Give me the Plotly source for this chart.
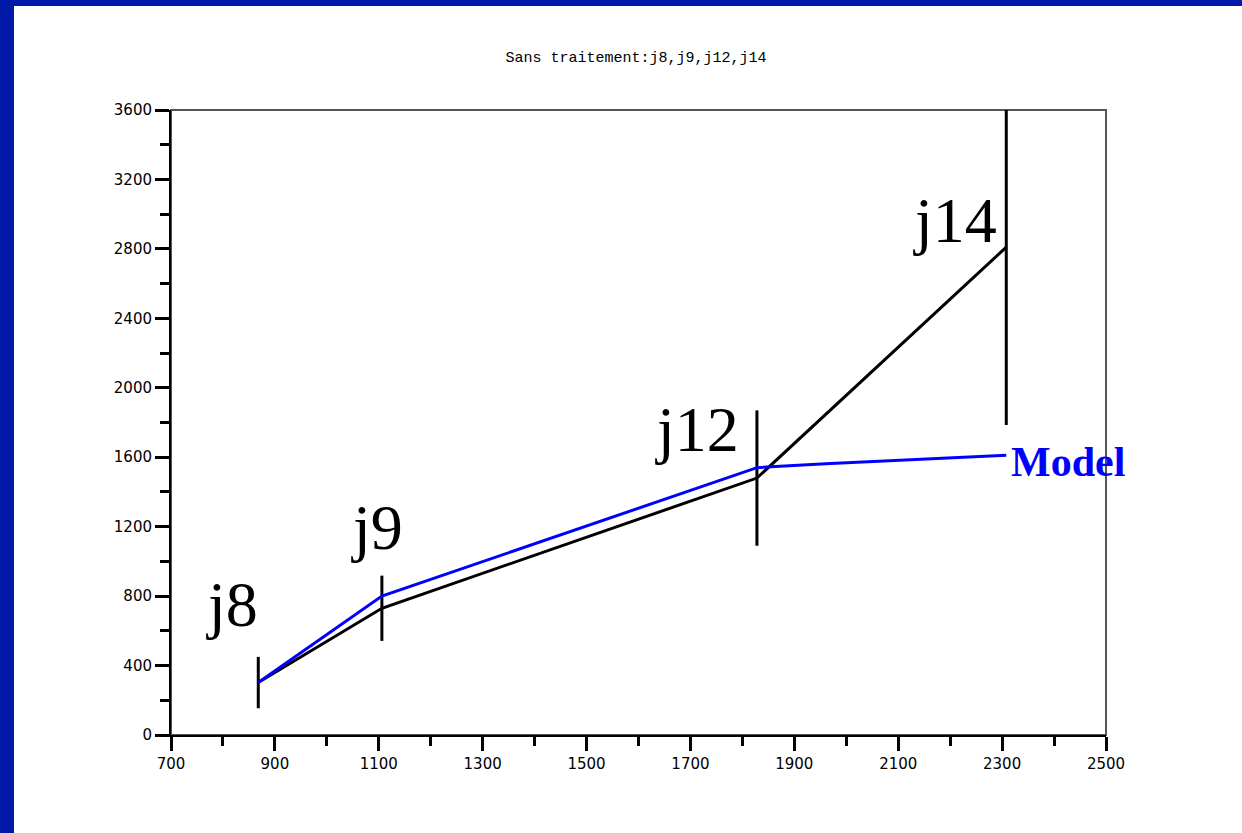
import plotly.graph_objects as go

# Observation days and measured values
day_labels = ["j8", "j9", "j12", "j14"]
day_x = [868, 1106, 1828, 2308]
observed = [302, 730, 1480, 2810]
observed_err = [148, 188, 390, 1025]

# Model curve
model_x = [868, 1106, 1828, 1960, 2308]
model_y = [302, 800, 1540, 1563, 1612]

x_tickvals = list(range(700, 2501, 200))
y_tickvals = list(range(0, 3601, 400))

W, H = 1242, 833
ML, MR, MT, MB = 171, 136, 110, 98
PW, PH = W - ML - MR, H - MT - MB

fig = go.Figure()

fig.add_trace(go.Scatter(
    x=day_x, y=observed, mode="lines",
    line=dict(color="black", width=3),
    error_y=dict(type="data", array=observed_err, visible=True,
                 color="black", thickness=3, width=0),
    showlegend=False, hoverinfo="skip",
))
fig.add_trace(go.Scatter(
    x=model_x, y=model_y, mode="lines",
    line=dict(color="#0000ff", width=3),
    showlegend=False, hoverinfo="skip",
))

# Day labels near each observation
label_pos = [(817, 752), (1097, 1197), (1713, 1762), (2209, 2965)]
for txt, (lx, ly) in zip(day_labels, label_pos):
    fig.add_annotation(x=lx, y=ly, text=txt, showarrow=False,
                       xanchor="center", yanchor="middle",
                       font=dict(family="Liberation Serif", size=64, color="black"))

fig.add_annotation(x=2314, y=1572, text="<b>Model</b>", showarrow=False,
                   xanchor="left", yanchor="middle",
                   font=dict(family="Liberation Serif", size=42, color="#0000ff"))

# Frame top/right edges and slide border
shapes = [
    dict(type="rect", xref="paper", yref="paper", x0=0, x1=1, y0=0, y1=1,
         line=dict(color="#555555", width=2), layer="below"),
    dict(type="rect", xref="paper", yref="paper",
         x0=-ML / PW, x1=(14 - ML) / PW, y0=-MB / PH, y1=1 + MT / PH,
         fillcolor="#0019a8", line=dict(width=0)),
    dict(type="rect", xref="paper", yref="paper",
         x0=-ML / PW, x1=1 + MR / PW, y0=1 + (MT - 6) / PH, y1=1 + MT / PH,
         fillcolor="#0019a8", line=dict(width=0)),
]

tick_font = dict(family="DejaVu Sans", size=15, color="black")

fig.update_layout(
    width=W, height=H,
    margin=dict(l=ML, r=MR, t=MT, b=MB),
    paper_bgcolor="white", plot_bgcolor="white",
    shapes=shapes,
    title=dict(text="Sans traitement:j8,j9,j12,j14", x=636 / W, xanchor="center",
               y=1 - 57 / H, yanchor="middle",
               font=dict(family="Liberation Mono", size=15, color="black")),
    xaxis=dict(range=[700, 2500], tickvals=x_tickvals, ticks="outside",
               ticklen=14, tickwidth=3, tickcolor="black",
               showline=True, linecolor="black", linewidth=2,
               showgrid=False, zeroline=False, tickfont=tick_font,
               minor=dict(dtick=100, tick0=700, ticks="outside", ticklen=9,
                          tickwidth=3, tickcolor="black", showgrid=False)),
    yaxis=dict(range=[0, 3600], tickvals=y_tickvals, ticks="outside",
               ticklen=14, tickwidth=3, tickcolor="black",
               showline=True, linecolor="black", linewidth=2,
               showgrid=False, zeroline=False, tickfont=tick_font,
               minor=dict(dtick=200, tick0=0, ticks="outside", ticklen=9,
                          tickwidth=3, tickcolor="black", showgrid=False)),
)

fig.write_html("out.html")
